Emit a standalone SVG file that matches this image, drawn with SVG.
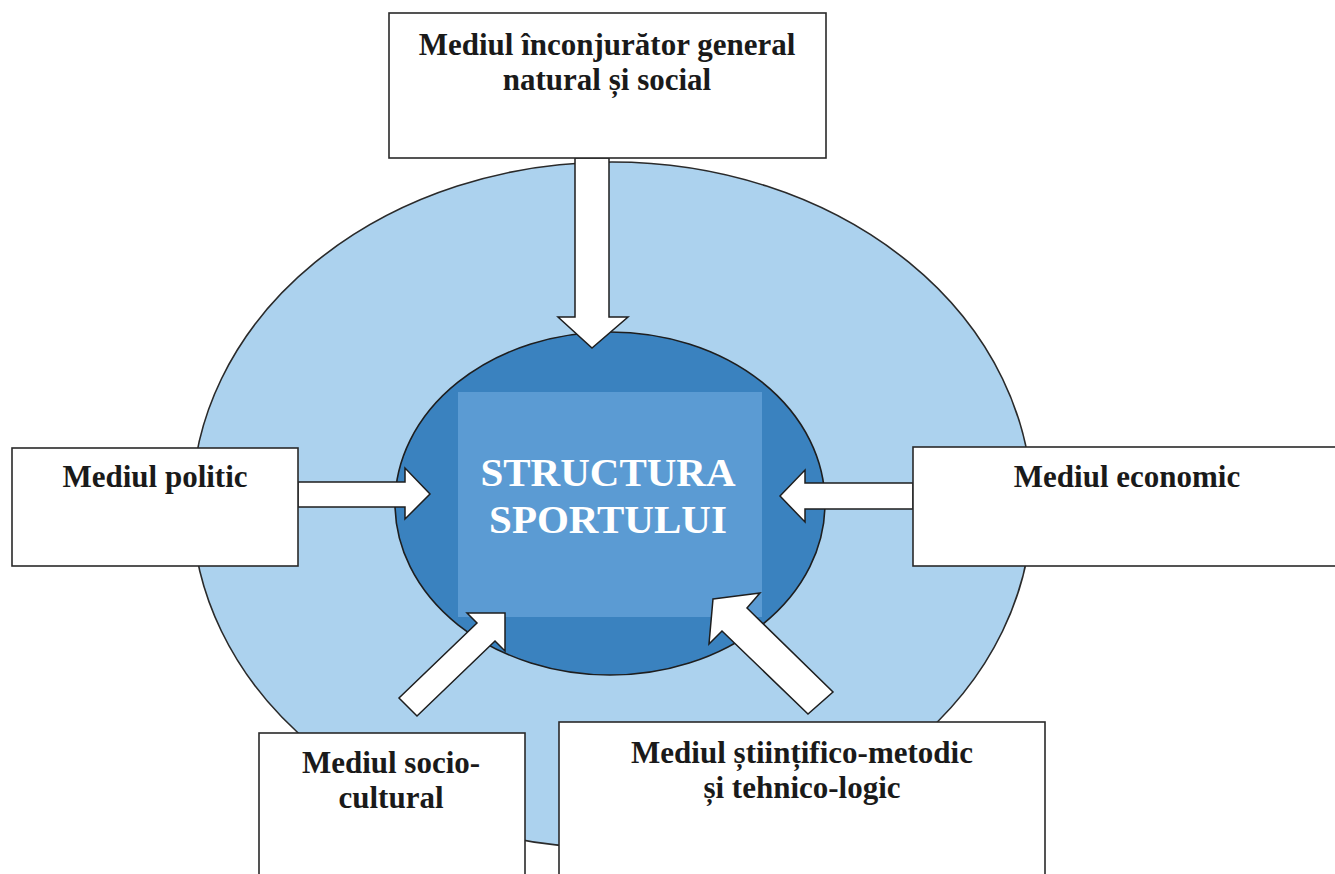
<svg xmlns="http://www.w3.org/2000/svg" width="1335" height="874" viewBox="0 0 1335 874">
<style>
.box{fill:#ffffff;stroke:#2a2a2a;stroke-width:1.6}
.arr{fill:#ffffff;stroke:#1e1e1e;stroke-width:1.5;stroke-linejoin:miter}
.lbl{font-family:"Liberation Serif","Times New Roman",serif;font-weight:bold;font-size:31px;fill:#1a1a1a;text-anchor:middle}
.core{font-family:"Liberation Serif","Times New Roman",serif;font-weight:bold;font-size:41px;fill:#ffffff;text-anchor:middle}
</style>
<rect width="1335" height="874" fill="#ffffff"/>
<g id="outer">
<ellipse cx="612" cy="505" rx="420" ry="343" fill="#acd2ee" stroke="#2a2a2a" stroke-width="1.6"/>
</g>
<g id="core">
<ellipse cx="610" cy="503.5" rx="215" ry="171.5" fill="#3a82bf" stroke="#1e1e1e" stroke-width="1.6"/>
<rect x="458" y="392" width="304" height="225" fill="#5b9bd3"/>
<text class="core" x="608" y="486">STRUCTURA</text>
<text class="core" x="608" y="533">SPORTULUI</text>
</g>
<g id="connectors">
<polygon class="arr" points="575,158 609,158 609,317 628,317 592,348 558,317 575,317"/>
<polygon class="arr" points="298,482 405,482 405,468 430,494 405,519 405,507 298,507"/>
<polygon class="arr" points="913,483 805,483 805,470 780,496 805,522 805,509 913,509"/>
<polygon class="arr" points="505,613 505,651 495,641 417,716 399,698 477,623 467,613"/>
<polygon class="arr" points="713,599 760,593 747,608 833,692 808,714 722,631 709,644"/>
</g>
<g id="node-top">
<rect class="box" x="389" y="13" width="437" height="145"/>
<text class="lbl" x="607" y="55">Mediul înconjurător general</text>
<text class="lbl" x="607" y="90">natural și social</text>
</g>
<g id="node-politic">
<rect class="box" x="12" y="448" width="286" height="118"/>
<text class="lbl" x="155" y="487">Mediul politic</text>
</g>
<g id="node-economic">
<rect class="box" x="913" y="447" width="440" height="119"/>
<text class="lbl" x="1127" y="487">Mediul economic</text>
</g>
<g id="node-socio">
<rect class="box" x="259" y="733" width="266" height="160"/>
<text class="lbl" x="391" y="773">Mediul socio-</text>
<text class="lbl" x="391" y="808">cultural</text>
</g>
<g id="node-stiintific">
<rect class="box" x="559" y="722" width="486" height="170"/>
<text class="lbl" x="802" y="763">Mediul științifico-metodic</text>
<text class="lbl" x="802" y="798">și tehnico-logic</text>
</g>
</svg>
